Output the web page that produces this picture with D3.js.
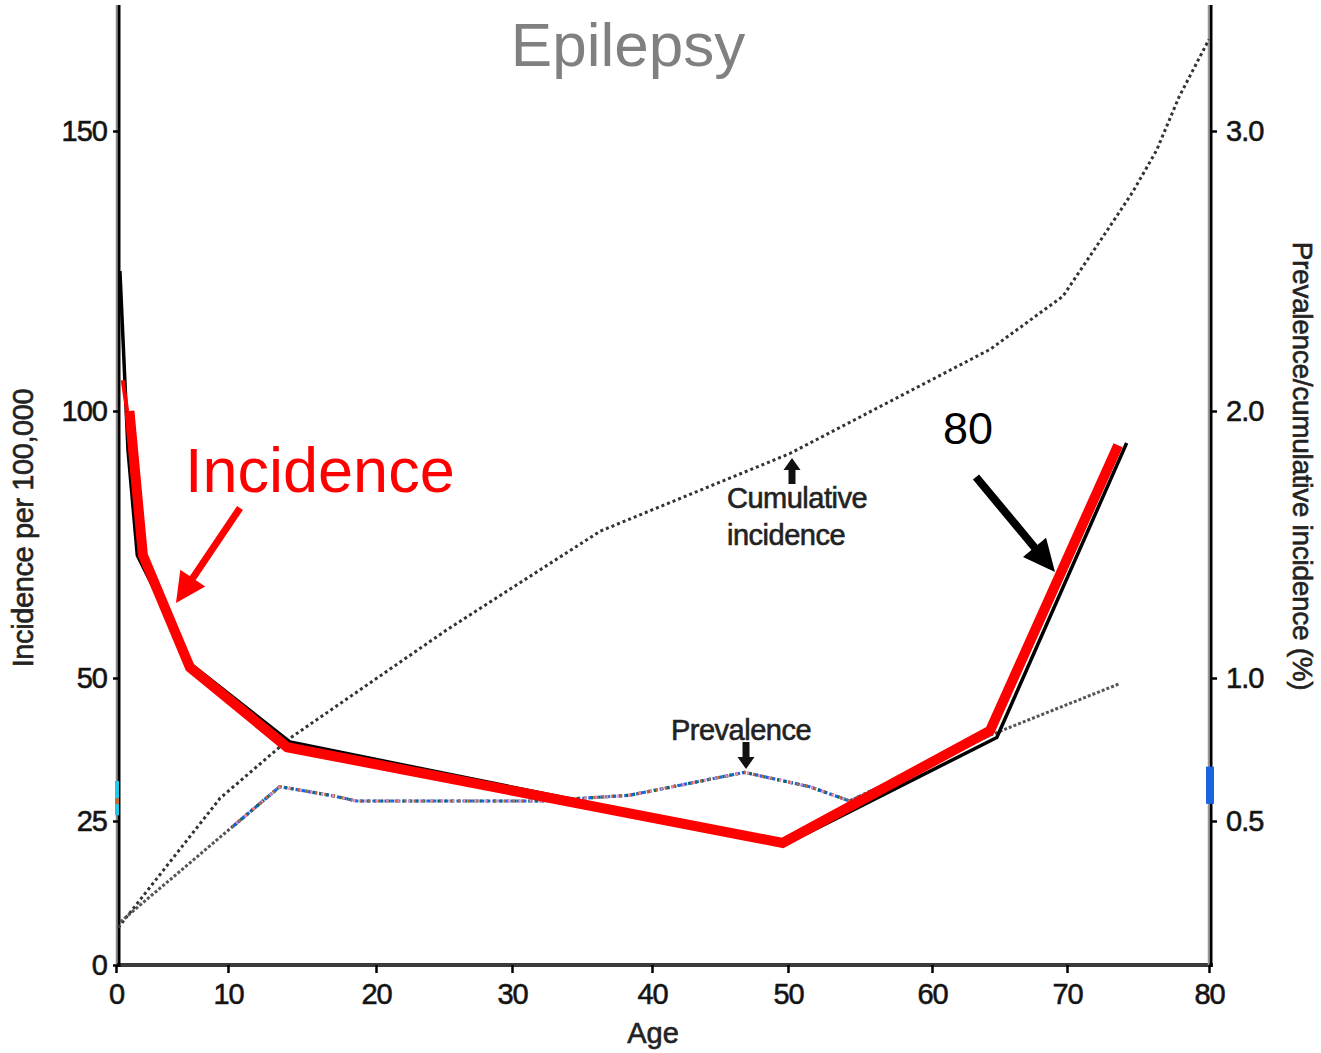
<!DOCTYPE html>
<html><head><meta charset="utf-8">
<script src="https://cdn.jsdelivr.net/npm/d3@7"></script>
<style>
body{margin:0;background:#fff}
svg{display:block}
text{font-family:"Liberation Sans",Arial,Helvetica,sans-serif}
.scan{stroke:#222;stroke-width:0.6px}
</style>
</head><body>
<svg id="chart" width="1321" height="1053"></svg>
<script>
// ---------- data ----------
const chartTitle = "Epilepsy";
const xLabel = "Age";
const yLeftLabel = "Incidence per 100,000";
const yRightLabel = "Prevalence/cumulative incidence (%)";
const xTicks = [0, 10, 20, 30, 40, 50, 60, 70, 80];
const yLeftTicks = [0, 25, 50, 100, 150];
const yRightTicks = [0.5, 1.0, 2.0, 3.0];

// original incidence curve (per 100,000)
const incidenceAge = [0.35, 1.07, 1.9, 6.8, 14.2, 50, 64.8, 74.2];
const incidenceVal = [125, 92.7, 73, 52.4, 38.8, 21.2, 39.6, 94];
// red highlight drawn over the incidence curve
const highlightAge = [1.2, 2.4, 6.6, 14.0, 49.6, 64.3, 73.6];
const highlightVal = [100, 73, 52, 37.9, 21.2, 40.8, 93.6];
const highlightStubAge = [0.6, 1.0];
const highlightStubVal = [105.5, 100];
// prevalence (%)
const prevalenceAge = [0.4, 10.3, 13.5, 16.9, 18.7, 32, 38.4, 46.8, 51.5, 54.3, 64.3, 73.7];
const prevalenceVal = [0.15, 0.48, 0.62, 0.59, 0.57, 0.57, 0.59, 0.67, 0.62, 0.57, 0.80, 0.98];
// cumulative incidence (%)
const cumulativeAge = [0.2, 9.3, 14.2, 25.2, 36.3, 50.1, 64.3, 69.7, 72.5, 74.6, 76.3, 77.9, 80];
const cumulativeVal = [0.13, 0.58, 0.79, 1.18, 1.55, 1.84, 2.22, 2.41, 2.62, 2.78, 2.93, 3.12, 3.32];

// ---------- scales (the scanned axes are slightly uneven) ----------
const x = d3.scaleLinear().domain(xTicks).range([116, 228, 376, 512, 652, 788, 932, 1067, 1209]);
const yL = d3.scaleLinear().domain([0, 25, 50, 100, 150, 172]).range([965, 821, 678, 411, 131, 5]);
const yR = d3.scaleLinear().domain([0, 0.5, 1, 2, 3, 3.44]).range([965, 821, 678, 411, 131, 5]);

const svg = d3.select("#chart");
const zip = (a, b) => a.map((v, i) => [v, b[i]]);

// ---------- axis lines ----------
svg.append("line").attr("x1", 116).attr("x2", 1213).attr("y1", 965).attr("y2", 965)
  .attr("stroke", "#3a3a3a").attr("stroke-width", 4);
svg.append("line").attr("x1", 116.5).attr("x2", 116.5).attr("y1", 5).attr("y2", 965)
  .attr("stroke", "#888").attr("stroke-width", 1.5);
svg.append("line").attr("x1", 119).attr("x2", 119).attr("y1", 5).attr("y2", 967)
  .attr("stroke", "#000").attr("stroke-width", 3);
svg.append("line").attr("x1", 1211).attr("x2", 1211).attr("y1", 5).attr("y2", 967)
  .attr("stroke", "#000").attr("stroke-width", 3);
svg.append("line").attr("x1", 1208.5).attr("x2", 1208.5).attr("y1", 5).attr("y2", 965)
  .attr("stroke", "#999").attr("stroke-width", 1.5);

// scan colour fringes on the axes
svg.append("rect").attr("x", 115).attr("y", yL(32)).attr("width", 4).attr("height", yL(26) - yL(32)).attr("fill", "#22c8e8");
svg.append("rect").attr("x", 115).attr("y", yL(29)).attr("width", 4).attr("height", 6).attr("fill", "#c8692a");
svg.append("rect").attr("x", 1206).attr("y", yR(0.69)).attr("width", 8).attr("height", yR(0.56) - yR(0.69)).attr("fill", "#1a64e0");

// ---------- axes ----------
function styleAxis(g) {
  g.select(".domain").remove();
  g.selectAll(".tick line").attr("stroke", "#000").attr("stroke-width", 2.5);
  g.selectAll(".tick text").attr("fill", "#111").attr("class", "scan").style("font-size", "29px")
    .style("font-family", '"Liberation Sans",Arial,sans-serif').attr("letter-spacing", "-1");
}
svg.append("g").attr("transform", "translate(119,0)")
  .call(d3.axisLeft(yL).tickValues(yLeftTicks).tickSize(6).tickPadding(6).tickFormat(d3.format("d")))
  .call(styleAxis);
svg.append("g").attr("transform", "translate(1211,0)")
  .call(d3.axisRight(yR).tickValues(yRightTicks).tickSize(6).tickPadding(9).tickFormat(d3.format(".1f")))
  .call(styleAxis);
svg.append("g").attr("transform", "translate(0,965)")
  .call(d3.axisBottom(x).tickValues(xTicks).tickSize(8).tickPadding(10).tickFormat(d3.format("d")))
  .call(styleAxis);

// axis titles
svg.append("text").attr("class", "scan").attr("transform", "translate(33,528) rotate(-90)").attr("text-anchor", "middle")
  .style("font-size", "29px").attr("fill", "#222").attr("letter-spacing", "-0.4").text(yLeftLabel);
svg.append("text").attr("class", "scan").attr("transform", "translate(1293,466) rotate(90)").attr("text-anchor", "middle")
  .style("font-size", "28px").attr("fill", "#222").attr("letter-spacing", "-0.3").text(yRightLabel);
svg.append("text").attr("class", "scan").attr("x", 653).attr("y", 1043).attr("text-anchor", "middle")
  .style("font-size", "29px").attr("fill", "#222").text(xLabel);

// title
svg.append("text").attr("x", 628).attr("y", 66).attr("text-anchor", "middle")
  .style("font-size", "62px").attr("fill", "#808080").text(chartTitle);

// ---------- series ----------
const lineL = d3.line().x(d => x(d[0])).y(d => yL(d[1]));
const lineR = d3.line().x(d => x(d[0])).y(d => yR(d[1]));

const cumData = zip(cumulativeAge, cumulativeVal);
svg.append("path").attr("d", lineR(cumData)).attr("fill", "none")
  .attr("stroke", "#333").attr("stroke-width", 3).attr("stroke-dasharray", "3,3");

const prevData = zip(prevalenceAge, prevalenceVal);
const prevGray = prevData.filter(d => d[0] <= 14 || d[0] >= 54);
svg.append("path").attr("d", lineR(prevData.filter(d => d[0] <= 14))).attr("fill", "none")
  .attr("stroke", "#555").attr("stroke-width", 3).attr("stroke-dasharray", "3,2");
svg.append("path").attr("d", lineR(prevData.filter(d => d[0] >= 54))).attr("fill", "none")
  .attr("stroke", "#555").attr("stroke-width", 3).attr("stroke-dasharray", "3,2");
const prevColored = prevData.filter(d => d[0] >= 10 && d[0] <= 65);
[["#1a66e8", "4,2", 0], ["#0e6a5a", "2,5", 3], ["#d0682a", "2,7", 1], ["#f08ac0", "2,9", 6]].forEach(([c, da, off]) => {
  svg.append("path").attr("d", lineR(prevColored)).attr("fill", "none")
    .attr("stroke", c).attr("stroke-width", 3.2).attr("stroke-dasharray", da).attr("stroke-dashoffset", off);
});

const incData = zip(incidenceAge, incidenceVal);
svg.append("path").attr("d", lineL(incData)).attr("fill", "none")
  .attr("stroke", "#000").attr("stroke-width", 3.5).attr("stroke-linejoin", "round");

svg.append("path").attr("d", lineL(zip(highlightStubAge, highlightStubVal))).attr("fill", "none")
  .attr("stroke", "#ff0000").attr("stroke-width", 4);
svg.append("path").attr("d", lineL(zip(highlightAge, highlightVal))).attr("fill", "none")
  .attr("stroke", "#ff0000").attr("stroke-width", 10).attr("stroke-linejoin", "miter");

// ---------- annotations ----------
function arrow(x1, y1, x2, y2, sw, hl, hw, color) {
  const dx = x2 - x1, dy = y2 - y1, L = Math.hypot(dx, dy);
  const ux = dx / L, uy = dy / L, px = -uy, py = ux;
  const bx = x2 - ux * hl, by = y2 - uy * hl;
  svg.append("line").attr("x1", x1).attr("y1", y1).attr("x2", bx + ux * 2).attr("y2", by + uy * 2)
    .attr("stroke", color).attr("stroke-width", sw);
  svg.append("path").attr("d", `M${x2},${y2}L${bx + px * hw / 2},${by + py * hw / 2}L${bx - px * hw / 2},${by - py * hw / 2}Z`)
    .attr("fill", color);
}

svg.append("text").attr("x", 185).attr("y", 492).style("font-size", "63px").attr("fill", "#ff0000").text("Incidence");
arrow(240, 508, 176, 603, 7, 30, 30, "#ff0000");

svg.append("text").attr("x", 943).attr("y", 444).style("font-size", "45px").attr("fill", "#000").text("80");
arrow(976, 477, 1055, 572, 8, 32, 30, "#000");

svg.append("text").attr("class", "scan").attr("x", 741).attr("y", 740).attr("text-anchor", "middle")
  .style("font-size", "29px").attr("fill", "#222").attr("letter-spacing", "-0.5").text("Prevalence");
arrow(746, 742, 746, 769, 7, 12, 17, "#111");

svg.append("text").attr("class", "scan").attr("x", 727).attr("y", 508)
  .style("font-size", "29px").attr("fill", "#222").attr("letter-spacing", "-0.5").text("Cumulative");
svg.append("text").attr("class", "scan").attr("x", 727).attr("y", 545)
  .style("font-size", "29px").attr("fill", "#222").attr("letter-spacing", "-0.5").text("incidence");
arrow(792, 484, 792, 458, 7, 12, 17, "#111");
</script>
</body></html>
